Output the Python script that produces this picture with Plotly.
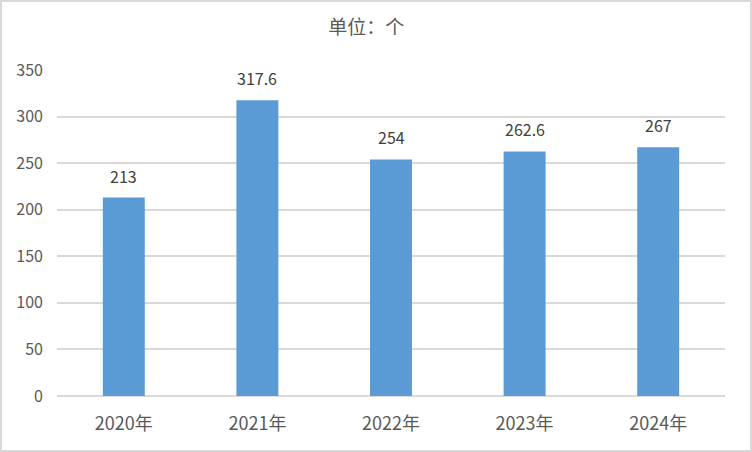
import plotly.graph_objects as go

categories = ["2020年", "2021年", "2022年", "2023年", "2024年"]
values = [213, 317.6, 254, 262.6, 267]
labels = ["213", "317.6", "254", "262.6", "267"]
y_ticks = [0, 50, 100, 150, 200, 250, 300, 350]

W, H = 752, 452
ml, mr, mt, mb = 57, 27, 70, 56
pw, ph = W - ml - mr, H - mt - mb

font = "Noto Sans CJK SC, Microsoft YaHei, sans-serif"

fig = go.Figure(go.Bar(
    x=categories, y=values,
    marker=dict(color="#5B9BD5", line=dict(width=0)),
    hoverinfo="skip",
))

for c, v, t in zip(categories, values, labels):
    fig.add_annotation(x=c, y=v, text=t, showarrow=False, yanchor="middle", yshift=22,
                       font=dict(size=16, color="#404040", family=font))

def px2x(p):
    return (p - ml) / pw

def px2y(p):
    return (H - mb - p) / ph

fig.update_layout(
    width=W, height=H,
    margin=dict(l=ml, r=mr, t=mt, b=mb),
    paper_bgcolor="white", plot_bgcolor="white",
    bargap=0.686,
    showlegend=False,
    title=dict(text="单位：个", x=0.487, xanchor="center", y=1 - 27 / H, yanchor="middle",
               font=dict(size=19, color="#595959", family=font)),
    xaxis=dict(showgrid=False, showline=False, ticks="", zeroline=False,
               ticklabelstandoff=15,
               tickfont=dict(size=18, color="#595959", family=font)),
    yaxis=dict(range=[0, 350], tickvals=y_ticks, showgrid=True, gridcolor="#D9D9D9", gridwidth=2,
               zeroline=True, zerolinecolor="#D9D9D9", zerolinewidth=2, showline=False, ticks="",
               ticklabelstandoff=13,
               tickfont=dict(size=16, color="#595959", family=font)),
    shapes=[dict(type="rect", xref="paper", yref="paper",
                 x0=px2x(1), x1=px2x(W - 1), y0=px2y(H - 1), y1=px2y(1),
                 line=dict(color="#D9D9D9", width=2), fillcolor="rgba(0,0,0,0)", layer="above")],
)

fig.write_html("out.html", config={"displayModeBar": False},
               post_script="document.body.style.margin='0';document.body.style.overflow='hidden';")
